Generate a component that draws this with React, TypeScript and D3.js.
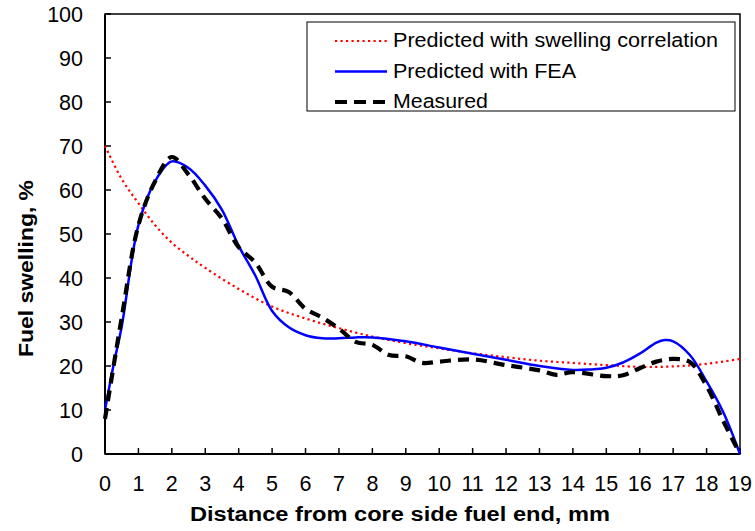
import React from "react";
import * as d3 from "d3";

const xTicks = d3.range(0, 20);
const yTicks = d3.range(0, 101, 10);

const corrX = [0, 0.5, 1, 1.5, 2, 2.5, 3, 4, 5, 6, 7, 8, 9, 10, 11, 12, 13, 14, 15, 16, 17, 18, 19];
const corrY = [70, 62.5, 57, 52, 48, 45, 42.3, 37.5, 33.5, 30.8, 28.6, 26.7, 25.2, 24, 22.9, 22, 21.2, 20.7, 20.2, 19.8, 19.9, 20.5, 21.6];

const feaX = [0, 0.25, 0.5, 1, 1.5, 2, 2.5, 3, 3.5, 4, 4.5, 5, 5.5, 6, 6.5, 7, 7.5, 8, 9, 10, 11, 12, 13, 14, 14.5, 15, 15.5, 16, 16.5, 16.75, 17, 17.5, 18, 18.5, 19];
const feaY = [10, 20, 29, 52, 62, 66.5, 65, 61, 55.5, 47.3, 40.5, 32.5, 28.8, 27, 26.3, 26.3, 26.5, 26.5, 25.6, 24.2, 22.8, 21.4, 20, 19.1, 19.2, 19.6, 20.8, 22.8, 25.3, 25.9, 25.6, 22.5, 16.5, 9.5, 0];

const measX = [0, 0.5, 1, 1.5, 2, 2.5, 3, 3.5, 4, 4.5, 5, 5.5, 6, 6.5, 7, 7.5, 8, 8.5, 9, 9.5, 10, 11, 12, 13, 13.5, 14, 15, 15.5, 16, 16.5, 17, 17.5, 18, 18.5, 19];
const measY = [8, 31, 52, 62, 67.5, 63.5, 58, 53.5, 47, 43.5, 38, 36.8, 33, 31, 28.5, 25.5, 24.8, 22.5, 22.2, 20.7, 21, 21.5, 20.2, 19, 18, 18.6, 17.7, 17.9, 19.5, 21, 21.6, 20.9, 15.5, 7.5, 0];

const legendLabels = ["Predicted with swelling correlation", "Predicted with FEA", "Measured"];
const legendWidths = [325, 183, 95];

const W = 755, H = 531;
const L = 105, R = 740, T = 14, B = 454;
const FONT = "'Liberation Sans', Arial, sans-serif";

export default function App() {
  const x = d3.scaleLinear().domain([0, 19]).range([L, R]);
  const y = d3.scaleLinear().domain([0, 100]).range([B, T]);
  const line = d3
    .line<[number, number]>()
    .x((d) => x(d[0]))
    .y((d) => y(d[1]))
    .curve(d3.curveCatmullRom.alpha(0.5));
  const zip = (a: number[], b: number[]) => a.map((v, i) => [v, b[i]] as [number, number]);

  const styles = [
    { stroke: "#ff0000", width: 2.2, dash: "2.2 3.3", cap: "butt" },
    { stroke: "#0000ff", width: 2.5, dash: undefined, cap: "butt" },
    { stroke: "#000000", width: 4.2, dash: "11 7", cap: "butt" },
  ];
  const series = [zip(corrX, corrY), zip(feaX, feaY), zip(measX, measY)];

  return (
    <svg
      width={W}
      height={H}
      style={{ position: "absolute", left: 0, top: 0, background: "#fff", display: "block" }}
      fontFamily={FONT}
    >
      <rect x={0} y={0} width={W} height={H} fill="#fff" />
      <rect x={L} y={T} width={R - L} height={B - T} fill="none" stroke="#000" strokeWidth={1.5} />
      <line x1={L} x2={L} y1={T} y2={B} stroke="#000" strokeWidth={2} />
      <line x1={L} x2={R} y1={B} y2={B} stroke="#000" strokeWidth={2} />
      {yTicks.map((t) => (
        <g key={"y" + t}>
          <line x1={L} x2={L + 6} y1={y(t)} y2={y(t)} stroke="#000" strokeWidth={1.5} />
          <text x={83} y={y(t)} dy="0.36em" textAnchor="end" fontSize={21.5} fill="#000">
            {t}
          </text>
        </g>
      ))}
      {xTicks.map((t) => (
        <g key={"x" + t}>
          <line x1={x(t)} x2={x(t)} y1={B} y2={B - 6} stroke="#000" strokeWidth={1.5} />
          <text x={x(t)} y={491} textAnchor="middle" fontSize={21.5} fill="#000">
            {t}
          </text>
        </g>
      ))}
      {series.map((s, i) => (
        <path
          key={"s" + i}
          d={line(s) || ""}
          fill="none"
          stroke={styles[i].stroke}
          strokeWidth={styles[i].width}
          strokeDasharray={styles[i].dash}
          strokeLinecap={styles[i].cap as any}
        />
      ))}
      <text
        x={190}
        y={521}
        textAnchor="start"
        fontSize={20}
        fontWeight="bold"
        fill="#000"
        textLength={420}
        lengthAdjust="spacingAndGlyphs"
      >
        Distance from core side fuel end, mm
      </text>
      <text
        transform={`translate(33,357) rotate(-90)`}
        textAnchor="start"
        fontSize={20.5}
        fontWeight="bold"
        fill="#000"
        textLength={177}
        lengthAdjust="spacingAndGlyphs"
      >
        Fuel swelling, %
      </text>
      <rect x={307} y={22} width={428} height={89} fill="#fff" stroke="#000" strokeWidth={1} />
      {legendLabels.map((lab, i) => {
        const base = 47 + i * 30.5;
        return (
          <g key={"l" + i}>
            <line
              x1={335}
              x2={387}
              y1={base - 6}
              y2={base - 6}
              stroke={styles[i].stroke}
              strokeWidth={styles[i].width}
              strokeDasharray={i === 2 ? "12 7" : styles[i].dash}
            />
            <text
              x={393}
              y={base}
              fontSize={20.5}
              fill="#000"
              textLength={legendWidths[i]}
              lengthAdjust="spacingAndGlyphs"
            >
              {lab}
            </text>
          </g>
        );
      })}
    </svg>
  );
}
